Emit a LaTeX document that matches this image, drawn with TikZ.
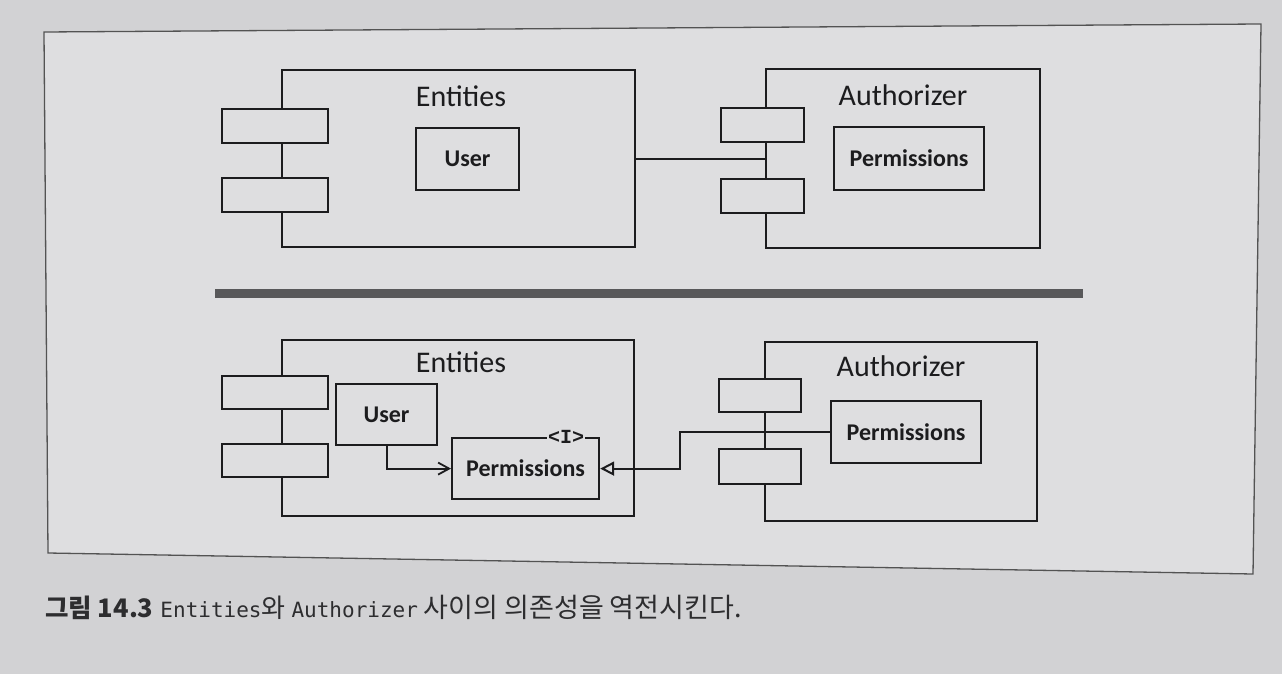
\documentclass[tikz,border=0pt]{standalone}
\usepackage{fontspec}
\setmainfont{Carlito}
\newfontfamily\cjk{Noto Sans CJK KR}
\newfontfamily\monof{DejaVu Sans Mono}
\newfontfamily\ifont{Liberation Mono}
\usetikzlibrary{arrows.meta}
\definecolor{bg}{RGB}{210,210,212}
\definecolor{panel}{RGB}{222,222,224}
\definecolor{ink}{RGB}{28,28,30}
\definecolor{capink}{RGB}{45,45,47}
\definecolor{bar}{RGB}{88,88,90}
\begin{document}
\begin{tikzpicture}[x=1pt,y=-1pt,
  box/.style={draw=ink,line width=2.2pt,inner sep=0pt,anchor=north west},
  comp/.style={box},
  port/.style={box,fill=panel},
  inbox/.style={box,font=\fontsize{24}{28}\selectfont\bfseries,text=ink},
  ttl/.style={font=\fontsize{30}{36}\selectfont,text=ink,inner sep=0pt},
  conn/.style={draw=ink,line width=2.2pt},
  barb/.style={conn,-{Straight Barb[length=11pt,width=12pt,line width=1.8pt]}},
  tri/.style={conn,-{Triangle[open,length=14pt,width=14pt,line width=2pt]}},
  ]
\useasboundingbox (0,0) rectangle (1282,674);
\fill[bg] (0,0) rectangle (1282,674);
\filldraw[fill=panel,draw=gray!65!black,line width=1.3pt] (44,32) -- (1261,24) -- (1253,574) -- (48,553) -- cycle;

% ---- top panel ----
\node[comp,minimum width=353pt,minimum height=177pt] (E1) at (281,69) {};
\node[port,minimum width=106pt,minimum height=34pt] (E1p1) at (221,108) {};
\node[port,minimum width=106pt,minimum height=34pt] (E1p2) at (221,177) {};
\node[ttl] (E1t) at (461,96) {Entities};
\node[inbox,minimum width=103pt,minimum height=62pt] (U1) at (415,127) {User};

\node[comp,minimum width=274pt,minimum height=179pt] (A1) at (765,68) {};
\node[port,minimum width=83pt,minimum height=34pt] (A1p1) at (720,107) {};
\node[port,minimum width=83pt,minimum height=34pt] (A1p2) at (720,178) {};
\node[ttl] (A1t) at (903,95) {Authorizer};
\node[inbox,minimum width=150pt,minimum height=63pt] (P1) at (833,126) {Permissions};

\draw[conn] (E1.east) -- (A1.west);

% ---- separator ----
\draw[bar,line width=9pt] (215,293) -- (1083,293);

% ---- bottom panel ----
\node[comp,minimum width=352pt,minimum height=176pt] (E2) at (281,339) {};
\node[port,minimum width=106pt,minimum height=33pt] (E2p1) at (221,375) {};
\node[port,minimum width=106pt,minimum height=33pt] (E2p2) at (221,443) {};
\node[ttl] (E2t) at (461,362) {Entities};
\node[inbox,minimum width=101pt,minimum height=61pt] (U2) at (335,383) {User};
\node[inbox,minimum width=147pt,minimum height=61pt] (EP2) at (451,437) {Permissions};
\node[fill=panel,inner sep=1pt,text=ink,font=\ifont\bfseries\fontsize{20}{22}\selectfont] (EI) at (566,437) {<I>};

\node[comp,minimum width=272pt,minimum height=179pt] (A2) at (764,341) {};
\node[port,minimum width=82pt,minimum height=33pt] (A2p1) at (718,378) {};
\node[port,minimum width=82pt,minimum height=35pt] (A2p2) at (718,448) {};
\node[ttl] (A2t) at (901,366) {Authorizer};
\node[inbox,minimum width=150pt,minimum height=62pt] (AP2) at (830,400) {Permissions};

\draw[barb] (U2.south) |- (EP2.west);
\draw[tri] (AP2.west) -- ++(-150,0) |- (EP2.east);

% ---- caption ----
\node[anchor=west,inner sep=0pt,text=capink] (cap) at (45,607)
  {{\cjk\bfseries\fontsize{25.5}{28}\selectfont 그림 14.3}\hspace{7pt}{\monof\fontsize{21}{24}\selectfont Entities}{\cjk\fontsize{26}{28}\selectfont 와}\hspace{6pt}{\monof\fontsize{21}{24}\selectfont Authorizer}\hspace{6pt}{\cjk\fontsize{27}{28}\selectfont 사이의 의존성을 역전시킨다.}};
\end{tikzpicture}
\end{document}
